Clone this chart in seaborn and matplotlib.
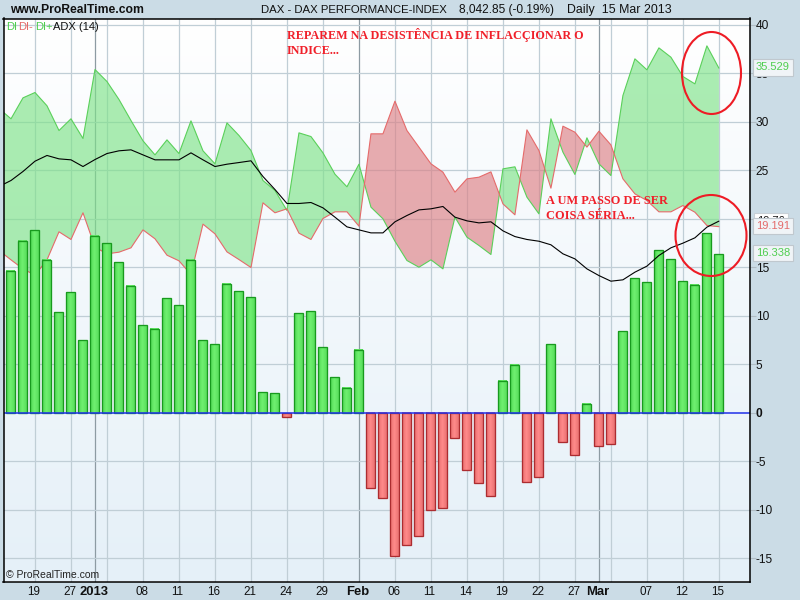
import numpy as np
import pandas as pd
import matplotlib
matplotlib.use("Agg")
import matplotlib.pyplot as plt
from matplotlib.patches import Ellipse, Rectangle
from matplotlib.transforms import ScaledTranslation
import seaborn as sns

sessions = list(range(-1, 60))
di_plus = [31.37,30.31,32.47,33.02,31.65,29.10,30.31,28.28,35.39,34.15,32.30,30.13,28.04,26.59,28.14,26.73,30.10,27.01,25.67,29.89,28.59,27.04,
           23.95,22.92,20.86,28.86,28.48,26.80,24.60,23.30,25.63,21.20,20.00,17.69,15.70,15.01,15.77,14.84,20.17,18.11,17.25,16.32,25.15,25.36,
           22.23,20.51,30.31,26.87,24.57,28.35,25.67,24.46,32.71,36.49,35.36,37.62,36.66,34.67,33.91,37.83,35.529]
di_minus = [16.73,15.77,14.84,14.19,15.77,18.66,17.87,20.62,17.08,16.39,16.56,17.01,18.86,17.94,16.25,15.67,14.26,19.45,18.45,16.59,15.80,14.98,
            21.65,20.62,21.03,18.52,17.87,20.03,20.72,20.72,19.24,28.76,28.76,32.13,29.10,27.39,25.67,24.81,22.75,24.12,24.29,24.84,21.54,20.41,
            29.17,27.04,23.16,29.55,28.93,27.39,29.03,27.62,24.12,22.57,21.89,20.72,20.72,21.37,20.68,19.31,19.191]
adx = [23.33,23.95,24.88,25.94,26.53,26.18,26.08,25.39,26.11,26.73,27.01,27.11,26.59,26.08,26.08,26.08,26.80,26.08,25.39,25.63,25.80,25.98,
       24.36,23.02,21.58,21.58,21.68,21.13,20.17,19.17,18.86,18.55,18.55,19.69,20.34,20.92,21.03,21.27,20.17,19.79,19.58,19.69,18.76,18.17,
       17.87,17.69,17.32,16.39,15.87,14.84,14.15,13.57,13.71,14.50,15.12,16.22,17.01,17.49,18.04,19.14,19.76]
diff_bars = [14.67,17.76,18.8,15.8,10.4,12.47,7.5,18.25,17.5,15.55,13.1,9.07,8.66,11.85,11.1,15.8,7.5,7.1,13.3,12.57,11.95,2.16,2.06,-0.4,10.3,10.5,
             6.8,3.7,2.6,6.5,-7.77,-8.8,-14.8,-13.65,-12.7,-10.04,-9.83,-2.6,-5.9,-7.25,-8.6,3.3,4.95,-7.15,-6.64,7.1,-3.0,-4.37,0.93,-3.44,-3.23,
             8.45,13.9,13.5,16.8,15.87,13.6,13.2,18.55,16.338]
x_tick_pos = [2,5,7,11,14,17,20,23,26,29,32,35,38,41,44,47,49,53,56,59]
x_tick_lab = ["19","27","2013","08","11","16","21","24","29","Feb","06","11","14","19","22","27","Mar","07","12","15"]
x_grid_extra = [8,50]
major_pos = [7,29,49]
y_ticks = [-15,-10,-5,0,5,10,15,20,25,30,35,40]

W, H = 800, 600
FONT = "Liberation Sans"
BG = "#cbdce6"
sns.set_theme(style="white")
plt.rcParams["font.family"] = [FONT, "DejaVu Sans"]
fig = plt.figure(figsize=(8, 6), dpi=100, facecolor=BG)
L, R, T, B = 3.5, 749.5, 18.5, 581.5
ax = fig.add_axes([L/W, 1-B/H, (R-L)/W, (B-T)/H], facecolor="white")
xlim = (-0.625, 61.55)
ylim = (-17.39, 40.65)

# background gradient
grad = np.linspace(0, 1, 256).reshape(-1, 1)
cmap = matplotlib.colors.LinearSegmentedColormap.from_list("bg", ["#ffffff", "#e5f0f8"])
ax.imshow(grad, aspect="auto", cmap=cmap, extent=(xlim[0], xlim[1], ylim[0], ylim[1]), origin="upper", zorder=0)

# grid
for p in x_tick_pos + x_grid_extra:
    c = "#8d9ba3" if p in major_pos else "#c0ced6"
    ax.axvline(p, color=c, lw=0.9, zorder=1)
for v in y_ticks:
    if v != 0:
        ax.axhline(v, color="#c0ced6", lw=0.9, zorder=1)

x = np.array(sessions, float)
plus = np.array(di_plus)
minus = np.array(di_minus)
ax.fill_between(x, plus, minus, where=plus >= minus, interpolate=True, color="#7fe389", alpha=0.65, lw=0, zorder=2)
ax.fill_between(x, plus, minus, where=plus <= minus, interpolate=True, color="#dd8085", alpha=0.65, lw=0, zorder=2)

df = pd.DataFrame({"session": sessions, "plus": di_plus, "minus": di_minus, "adx": adx})
sns.lineplot(data=df, x="session", y="plus", color="#5ad05a", lw=0.8, ax=ax, zorder=3, errorbar=None, estimator=None)
sns.lineplot(data=df, x="session", y="minus", color="#e56a6a", lw=0.8, ax=ax, zorder=3, errorbar=None, estimator=None)
sns.lineplot(data=df, x="session", y="adx", color="black", lw=0.8, ax=ax, zorder=5, errorbar=None, estimator=None)

bars = pd.DataFrame({"session": sessions[1:], "value": diff_bars})
bars["side"] = np.where(bars["value"] >= 0, "up", "down")
sns.barplot(data=bars, x="session", y="value", hue="side", palette={"up": "#5fe35f", "down": "#f27c7c"},
            dodge=False, native_scale=True, width=0.78, legend=False, ax=ax, zorder=4,
            edgecolor="none", linewidth=0)
gr_up = matplotlib.colors.LinearSegmentedColormap.from_list("u", ["#4ed652", "#70f070", "#58de5c"])
gr_dn = matplotlib.colors.LinearSegmentedColormap.from_list("d", ["#e86e6e", "#ff8a8a", "#ea7272"])
for p in list(ax.patches):
    h = p.get_height()
    if h == 0 or np.isnan(h):
        continue
    c = p.get_x() + p.get_width()/2
    w = 0.75
    p.set_x(c - w/2 - 0.03)
    p.set_width(w)
    x0, y0 = p.get_x(), p.get_y()
    up = h > 0
    ax.imshow(np.linspace(0, 1, 32).reshape(1, -1), aspect="auto", cmap=gr_up if up else gr_dn,
              extent=(x0, x0+w, min(y0, y0+h), max(y0, y0+h)), zorder=4.1)
    ax.add_patch(Rectangle((x0, y0), w, h, fill=False, ec="#189a1e" if up else "#ac2c30", lw=0.95, zorder=4.2))
ax.axhline(0, color="#2030ea", lw=1.1, zorder=6)

ax.set_xlim(*xlim)
ax.set_ylim(*ylim)
ax.set_xlabel("")
ax.set_ylabel("")
for s in ax.spines.values():
    s.set_visible(True)
    s.set_color("black")
    s.set_linewidth(1.1)
    s.set_zorder(20)

ax.yaxis.tick_right()
ax.set_yticks(y_ticks)
ax.set_yticklabels([str(v) for v in y_ticks], fontsize=8.6, color="#111111")
ax.tick_params(axis="y", length=4, width=0.8, color="#b0bcc4", pad=0.5, right=True, left=False)
for lab, v in zip(ax.get_yticklabels(), y_ticks):
    if v == 0:
        lab.set_fontweight("bold")
ax.set_xticks(x_tick_pos)
ax.set_xticklabels(x_tick_lab, fontsize=8.4, color="#111111", va="center")
ax.tick_params(axis="x", length=0, pad=7.5, bottom=True)
shift = ScaledTranslation(-1.3/100, 0, fig.dpi_scale_trans)
for lab, t in zip(ax.get_xticklabels(), x_tick_lab):
    lab.set_transform(lab.get_transform() + shift)
    if t in ("2013", "Feb", "Mar"):
        lab.set_fontweight("bold")
        lab.set_fontsize(9.4)

def px(xp, yp):
    return xp/W, 1-yp/H

# header
fig.text(*px(10, 10), "www.ProRealTime.com", fontsize=8.7, fontweight="bold", color="#111111", va="center")
fig.text(*px(261, 10), "DAX - DAX PERFORMANCE-INDEX", fontsize=8.2, color="#111111", va="center")
fig.text(*px(459, 10), "8,042.85 (-0.19%)", fontsize=8.6, color="#111111", va="center")
fig.text(*px(567, 10), "Daily  15 Mar 2013", fontsize=8.9, color="#111111", va="center")

# legend labels
for lx, s, c in [(6, "DI", "#4fce4f"), (18, "DI-", "#e46a6a"), (35, "DI+", "#4fce4f"), (53, "ADX (14)", "#111111")]:
    fig.text(*px(lx, 26.5), s, fontsize=8.0, color=c, va="center", zorder=30)
fig.text(*px(6, 575.5), "© ProRealTime.com", fontsize=7.5, color="#222222", va="center", zorder=30)

# annotations
serif = dict(family="Liberation Serif", fontweight="bold", color="#f0202a", va="center", zorder=30)
fig.text(*px(287, 35.5), "REPAREM NA DESISTÊNCIA DE INFLACÇIONAR O", fontsize=8.7, **serif)
fig.text(*px(287, 50.5), "INDICE...", fontsize=8.7, **serif)
fig.text(*px(546, 200.5), "A UM PASSO DE SER", fontsize=8.9, **serif)
fig.text(*px(546, 216), "COISA SÉRIA...", fontsize=8.9, **serif)

# hand-drawn ellipses
trans = fig.dpi_scale_trans
for cx, cy, ew, eh in [(711.5, 73, 59, 82), (711, 235.5, 71, 81)]:
    fig.add_artist(Ellipse((cx/100, (H-cy)/100), ew/100, eh/100, fill=False, ec="#ee1c25", lw=1.5, transform=trans, zorder=31))

# value boxes
box = lambda c, ec: dict(boxstyle="square,pad=0.28", fc=c, ec=ec, lw=0.8)
fig.text(*px(757, 221), "19.76", fontsize=8, color="#111111", va="center", bbox=box("white", "#c8d0d6"), zorder=32)
fig.text(*px(756, 67.5), "35.529", fontsize=8, color="#4fce4f", va="center", bbox=box("#f0f4f7", "#c0c8ce"), zorder=33)
fig.text(*px(756, 226), "19.191", fontsize=8, color="#e46a6a", va="center", bbox=box("#f0f4f7", "#c0c8ce"), zorder=33)
fig.text(*px(756, 253), "16.338", fontsize=8, color="#4fce4f", va="center", bbox=box("#f0f4f7", "#c0c8ce"), zorder=33)

fig.savefig("out.png", dpi=100, facecolor=BG)
